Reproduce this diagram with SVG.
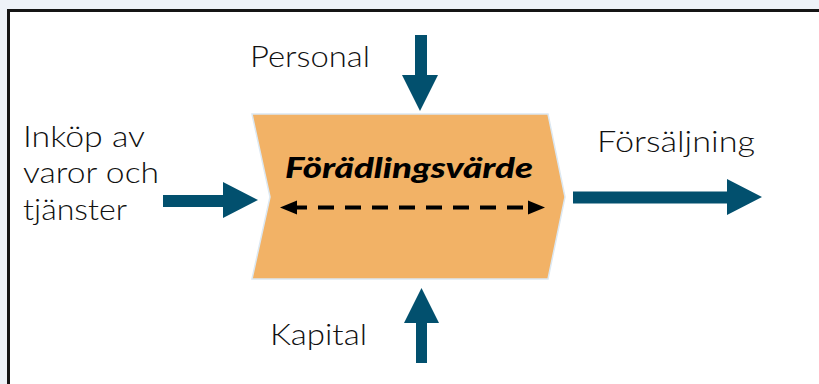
<svg xmlns="http://www.w3.org/2000/svg" width="819" height="384" viewBox="0 0 819 384">
  <defs>
    <style>
      .lbl { font-family: Lato, "Liberation Sans", sans-serif; font-size: 29px; font-weight: 300; fill: #111; }
      .title { font-family: Lato, "Liberation Sans", sans-serif; font-size: 28px; font-weight: 900; font-style: italic; fill: #000; }
      .arrow { fill: #02506e; }
    </style>
  </defs>
  <rect x="0" y="0" width="819" height="384" fill="#eef2f8"/>
  <rect x="8.5" y="10.5" width="830" height="400" fill="#fff" stroke="#151515" stroke-width="3"/>

  <g id="node-foradlingsvarde">
    <path d="M252,114 L548,114 L565,197 L548,279 L252,279 L270,197 Z" fill="#f2b266" stroke="#dce8f2" stroke-width="1.5"/>
    <text class="title" x="285" y="178" textLength="248" lengthAdjust="spacingAndGlyphs">Förädlingsvärde</text>
    <line x1="296" y1="207.5" x2="529" y2="207.5" stroke="#000" stroke-width="4" stroke-dasharray="16,11" stroke-dashoffset="5"/>
    <path d="M280,207.5 L297,200.5 L297,214.5 Z" fill="#000"/>
    <path d="M545,207.5 L528,200.5 L528,214.5 Z" fill="#000"/>
  </g>

  <g id="node-inkop">
    <text class="lbl" x="23" y="147" textLength="122" lengthAdjust="spacingAndGlyphs">Inköp av</text>
    <text class="lbl" x="23" y="183" textLength="136" lengthAdjust="spacingAndGlyphs">varor och</text>
    <text class="lbl" x="23" y="220" textLength="104" lengthAdjust="spacingAndGlyphs">tjänster</text>
  </g>
  <g id="node-personal">
    <text class="lbl" x="250" y="67" textLength="120" lengthAdjust="spacingAndGlyphs">Personal</text>
  </g>
  <g id="node-forsaljning">
    <text class="lbl" x="597" y="152" textLength="158" lengthAdjust="spacingAndGlyphs">Försäljning</text>
  </g>
  <g id="node-kapital">
    <text class="lbl" x="270" y="345" textLength="97" lengthAdjust="spacingAndGlyphs">Kapital</text>
  </g>

  <g id="connectors">
    <path class="arrow" d="M163,195 L223,195 L223,182 L258,200 L223,218 L223,207 L163,207 Z"/>
    <path class="arrow" d="M415,35 L427,35 L427,75 L438,75 L420,111 L402,75 L415,75 Z"/>
    <path class="arrow" d="M573,191.5 L727,191.5 L727,179 L762,197 L727,215 L727,203.5 L573,203.5 Z"/>
    <path class="arrow" d="M416,363 L427,363 L427,323 L439,323 L421.5,288 L404,323 L416,323 Z"/>
  </g>
</svg>
